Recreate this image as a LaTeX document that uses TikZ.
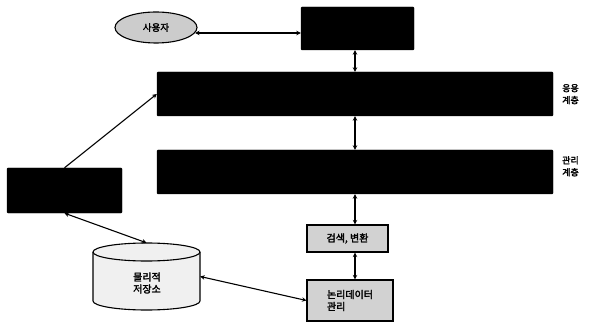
\documentclass[tikz,border=0pt]{standalone}
\usepackage{fontspec}
\newfontfamily\kr[AutoFakeBold=2.5]{Noto Sans CJK KR}
\usetikzlibrary{arrows.meta,shapes.geometric}
\begin{document}
\begin{tikzpicture}[x=1pt,y=-1pt,
  blk/.style={draw=black, fill=black, rounded corners=1pt, inner sep=0pt},
  gbox/.style={draw=black, line width=1.1pt, fill=gray!35, inner sep=0pt, font=\kr\bfseries\fontsize{10}{12}\selectfont},
  arr/.style={line width=1.1pt, {Stealth[length=4.5pt,width=4.5pt]}-{Stealth[length=4.5pt,width=4.5pt]}},
  arrone/.style={line width=1.1pt, -{Stealth[length=4.5pt,width=4.5pt]}},
  lbl/.style={font=\kr\bfseries\fontsize{9}{12}\selectfont, align=left, anchor=north west, inner sep=0pt}]
\useasboundingbox (0,0) rectangle (594,323);
% user ellipse
\node[draw, ellipse, fill=gray!40, line width=1.1pt, minimum width=82pt, minimum height=31pt, inner sep=0pt,
      font=\kr\bfseries\fontsize{9.5}{11}\selectfont] (user) at (156,27.5) {사용자};
% black boxes
\node[blk, minimum width=113pt, minimum height=43pt] (top) at (357.5,28.5) {};
\node[blk, minimum width=396pt, minimum height=44pt] (app) at (355,94) {};
\node[blk, minimum width=396pt, minimum height=44pt] (mgmt) at (355,172) {};
\node[blk, minimum width=115pt, minimum height=45pt] (left) at (64.5,190.5) {};
% gray boxes
\node[gbox, minimum width=81pt, minimum height=27pt] (search) at (347.5,238.5) {검색, 변환};
\node[gbox, minimum width=86pt, minimum height=41pt, align=left] (logic) at (350,300.5) {논리데이터\\관리};
% layer labels
\node[lbl] (lapp) at (562,84) {응용\\계층};
\node[lbl] (lmgmt) at (562,156) {관리\\계층};
% cylinder
\fill[gray!12] (93,252) -- (93,301) arc[start angle=180, end angle=0, x radius=53.5, y radius=9] -- (200,252) -- cycle;
\draw[line width=1.1pt] (93,252) -- (93,301) arc[start angle=180, end angle=0, x radius=53.5, y radius=9] -- (200,252);
\draw[line width=1.1pt, fill=gray!12] (146.5,252) ellipse[x radius=53.5, y radius=9];
\node[minimum width=107pt, minimum height=67pt, inner sep=0pt] (store) at (146.5,276.5) {};
\node[align=center, inner sep=0pt, font=\kr\bfseries\fontsize{10}{12}\selectfont] (storetxt) at (147,283) {물리적\\저장소};
% connectors
\draw[arr] (user.-8) -- (user.-8 -| top.west);
\draw[arr] (app.north |- top.south) -- (app.north);
\draw[arr] (app.south) -- (mgmt.north);
\draw[arr] (mgmt.south) -- (mgmt.south |- search.north);
\draw[arr] (mgmt.south |- search.south) -- (mgmt.south |- logic.north);
\draw[arrone] (left.north) -- (app.west);
\draw[arr] (left.south) -- (store.north);
\draw[arr] (store.east) -- (logic.west);
\end{tikzpicture}
\end{document}
